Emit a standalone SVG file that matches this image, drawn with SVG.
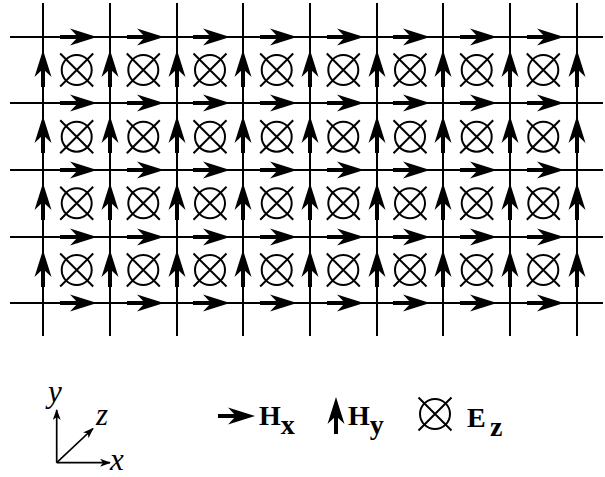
<svg xmlns="http://www.w3.org/2000/svg" xmlns:xlink="http://www.w3.org/1999/xlink" width="605" height="477" viewBox="0 0 605 477">
<style>
.grid{stroke:#000;stroke-width:2;fill:none}
.ez{stroke:#000;stroke-width:2;fill:none}
.ax{stroke:#000;stroke-width:1.7;fill:none}
.lbl{font-family:"Liberation Serif","Times New Roman",serif;font-weight:bold;font-size:28px;fill:#000}
.axl{font-family:"Liberation Serif","Times New Roman",serif;font-style:italic;font-size:31px;fill:#000}
</style>
<defs>
<g id="arr"><path d="M0,0H20" stroke="#000" stroke-width="4"/><path d="M37,0L10,-8.5L18,0L10,8.5Z" fill="#000"/></g>
<g id="ezs" class="ez"><circle cx="0" cy="0" r="15"/><path d="M-16.5,-16.5L16.5,16.5M16.5,-16.5L-16.5,16.5"/></g>
<g id="hxrow">
<use xlink:href="#arr" x="60"/><use xlink:href="#arr" x="127"/><use xlink:href="#arr" x="193"/><use xlink:href="#arr" x="260"/>
<use xlink:href="#arr" x="327"/><use xlink:href="#arr" x="393"/><use xlink:href="#arr" x="460"/><use xlink:href="#arr" x="527"/>
</g>
<g id="hycol">
<use xlink:href="#arr" transform="translate(0,87) rotate(-90)"/>
<use xlink:href="#arr" transform="translate(0,153) rotate(-90)"/>
<use xlink:href="#arr" transform="translate(0,220) rotate(-90)"/>
<use xlink:href="#arr" transform="translate(0,287) rotate(-90)"/>
</g>
<g id="ezrow">
<use xlink:href="#ezs" x="76.7"/><use xlink:href="#ezs" x="143.3"/><use xlink:href="#ezs" x="210"/><use xlink:href="#ezs" x="276.7"/>
<use xlink:href="#ezs" x="343.3"/><use xlink:href="#ezs" x="410"/><use xlink:href="#ezs" x="476.7"/><use xlink:href="#ezs" x="543.3"/>
</g>
<marker id="ah" viewBox="0 0 11 8" refX="10" refY="4" markerWidth="11" markerHeight="8" markerUnits="userSpaceOnUse" orient="auto"><path d="M0,0L11,4L0,8L3,4Z" fill="#000"/></marker>
</defs>
<rect width="605" height="477" fill="#fff"/>
<g id="grid" class="grid">
<path d="M10,37H603M10,103H603M10,170H603M10,237H603M10,303H603"/>
<path d="M43,3V336M110,3V336M177,3V336M243,3V336M310,3V336M377,3V336M443,3V336M510,3V336M577,3V336"/>
</g>
<g id="ez-field">
<use xlink:href="#ezrow" y="70"/><use xlink:href="#ezrow" y="136.7"/><use xlink:href="#ezrow" y="203.3"/><use xlink:href="#ezrow" y="270"/>
</g>
<g id="hx-field">
<use xlink:href="#hxrow" y="37"/><use xlink:href="#hxrow" y="103"/><use xlink:href="#hxrow" y="170"/><use xlink:href="#hxrow" y="237"/><use xlink:href="#hxrow" y="303"/>
</g>
<g id="hy-field">
<use xlink:href="#hycol" x="43"/><use xlink:href="#hycol" x="110"/><use xlink:href="#hycol" x="177"/><use xlink:href="#hycol" x="243"/><use xlink:href="#hycol" x="310"/>
<use xlink:href="#hycol" x="377"/><use xlink:href="#hycol" x="443"/><use xlink:href="#hycol" x="510"/><use xlink:href="#hycol" x="577"/>
</g>
<g id="axes">
<path class="ax" d="M56.7,462.7V410" marker-end="url(#ah)"/>
<path class="ax" d="M56.7,462.7H110" marker-end="url(#ah)"/>
<path class="ax" d="M56.7,462.7L93,428.5" marker-end="url(#ah)"/>
<text class="axl" x="48" y="402">y</text>
<text class="axl" x="96" y="425">z</text>
<text class="axl" x="110" y="470">x</text>
</g>
<g id="legend-hx">
<use xlink:href="#arr" x="218" y="416"/>
<text class="lbl" x="259" y="425">H<tspan dy="9">x</tspan></text>
</g>
<g id="legend-hy">
<use xlink:href="#arr" transform="translate(336,434) rotate(-90)"/>
<text class="lbl" x="348" y="425">H<tspan dy="9">y</tspan></text>
</g>
<g id="legend-ez">
<use xlink:href="#ezs" x="435" y="414"/>
<text class="lbl" x="467" y="427">E<tspan x="490" dy="9">z</tspan></text>
</g>
</svg>
